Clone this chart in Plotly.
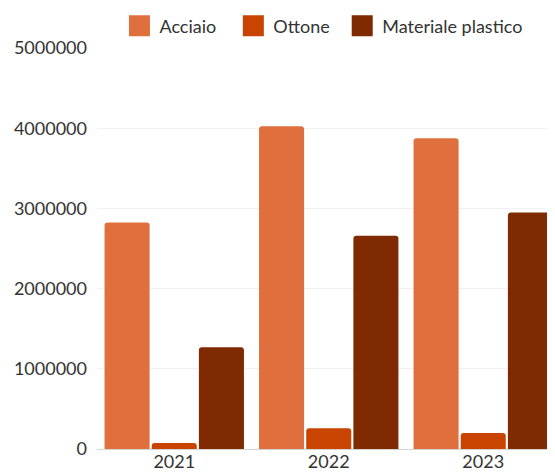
import plotly.graph_objects as go

years = ["2021", "2022", "2023"]
acciaio = [2825000, 4025000, 3875000]
ottone = [75000, 260000, 200000]
plastica = [1270000, 2660000, 2950000]
series_names = ["Acciaio", "Ottone", "Materiale plastico"]
colors = ["#DF703E", "#C84400", "#7F2A00"]
y_ticks = [0, 1000000, 2000000, 3000000, 4000000, 5000000]

legend_refs = ["legend", "legend2", "legend3"]
legend_x = [0.049, 0.2977, 0.5354]

fig = go.Figure()
for name, vals, col in zip(series_names, [acciaio, ottone, plastica], colors):
    fig.add_trace(go.Bar(
        x=years, y=vals, name=name, showlegend=False,
        marker=dict(color=col, cornerradius=3, line=dict(width=0)),
        hoverinfo="skip",
    ))
for name, col, lg in zip(series_names, colors, legend_refs):
    fig.add_trace(go.Scatter(
        x=[None], y=[None], name=name, mode="markers", legend=lg,
        marker=dict(symbol="square", size=16, color=col, line=dict(color=col, width=5)),
    ))

FS = 18
legend_style = dict(orientation="h", xanchor="left", y=1.055, yanchor="middle",
                    font=dict(size=FS, color="#333333"), itemsizing="trace",
                    bgcolor="rgba(0,0,0,0)", itemwidth=30)

# page body has an 8px margin, so the figure is sized to fit the window
W, H = 547, 464
L, R, T, B = 88.5, 0, 40, 23
fig.update_layout(
    width=W, height=H,
    margin=dict(l=L, r=R, t=T, b=B, pad=0, autoexpand=False),
    paper_bgcolor="white", plot_bgcolor="white",
    font=dict(family="Lato, sans-serif", size=FS, color="#333333"),
    barmode="group", bargap=0.084, bargroupgap=0.045,
    showlegend=True,
    legend=dict(x=legend_x[0], **legend_style),
    legend2=dict(x=legend_x[1], **legend_style),
    legend3=dict(x=legend_x[2], **legend_style),
    xaxis=dict(type="category", range=[-0.5, 2.4645], showgrid=False,
               showline=False, ticks="", zeroline=False, fixedrange=True,
               automargin=False, ticklabelstandoff=0),
    yaxis=dict(range=[0, 5000000], tickvals=y_ticks, ticktext=[str(v) for v in y_ticks],
               showgrid=True, gridcolor="#f1f1f1", gridwidth=1,
               zeroline=True, zerolinecolor="#d4d4d4", zerolinewidth=1,
               showline=False, ticks="", ticklabelstandoff=9, fixedrange=True,
               automargin=False),
)
fig.write_html("out.html")
